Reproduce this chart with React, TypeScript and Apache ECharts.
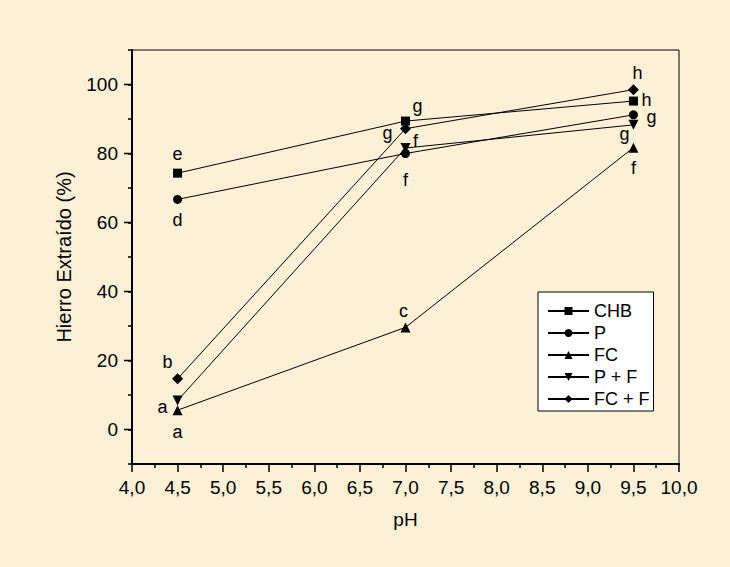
import React, { useEffect, useRef } from 'react';
import * as echarts from 'echarts';

// ---- data ----
const PH = [4.5, 7.0, 9.5];
const SERIES_NAMES = ['CHB', 'P', 'FC', 'P + F', 'FC + F'];
const CHB = [74.3, 89.4, 95.2];
const P = [66.7, 80.0, 91.2];
const FC = [5.6, 29.6, 81.7];
const PF = [8.4, 81.6, 88.3];
const FCF = [14.7, 87.2, 98.5];
const CHB_LETTERS = ['e', 'g', 'h'];
const P_LETTERS = ['d', 'f', 'g'];
const FC_LETTERS = ['a', 'c', 'f'];
const PF_LETTERS = ['a', 'f', 'g'];
const FCF_LETTERS = ['b', 'g', 'h'];
const Y_MAJOR = [0, 20, 40, 60, 80, 100];

// ---- styling (label offsets in px, relative to marker centre) ----
const CHB_OFF = [[0, -19], [12, -15], [13, -1]];
const P_OFF = [[0, 21], [0, 26], [18, 2]];
const FC_OFF = [[0, 22], [-2, -16], [0, 20]];
const PF_OFF = [[-15, 6], [10, -7], [-9, 9]];
const FCF_OFF = [[-10, -17], [-18, 4], [4, -17]];

const FONT = "'Liberation Sans', Arial, sans-serif";
const BG = '#FCF0D6';

function buildSeries(name: string, values: number[], letters: string[], offs: number[][], symbol: string, size: number, rotate = 0) {
  return {
    name,
    type: 'line',
    symbol,
    symbolSize: size,
    symbolRotate: rotate,
    lineStyle: { color: '#000', width: 1 },
    itemStyle: { color: '#000' },
    data: PH.map((x, i) => ({
      value: [x, values[i]],
      label: {
        show: true,
        formatter: letters[i],
        position: 'inside',
        offset: offs[i],
        align: 'center',
        verticalAlign: 'middle',
        color: '#000',
        fontSize: 18,
        fontFamily: FONT,
      },
    })),
    z: 3,
  };
}

export default function App() {
  const ref = useRef<HTMLDivElement>(null);
  useEffect(() => {
    if (!ref.current) return;
    const chart = echarts.init(ref.current, undefined, { renderer: 'svg' });
    chart.setOption({
      animation: false,
      backgroundColor: BG,
      textStyle: { fontFamily: FONT },
      grid: {
        left: 132, top: 50, width: 547, height: 414,
        show: true, borderColor: '#000', borderWidth: 1, backgroundColor: 'transparent',
      },
      legend: {
        orient: 'vertical',
        left: 538, top: 292,
        backgroundColor: '#fff',
        borderColor: '#000', borderWidth: 1, borderRadius: 0,
        padding: [10, 4, 3, 9],
        itemGap: 4,
        itemWidth: 41,
        itemHeight: 10,
        textStyle: { fontSize: 18, color: '#000', fontFamily: FONT },
        data: SERIES_NAMES,
      },
      xAxis: {
        type: 'value', min: 4, max: 10, interval: 0.5,
        name: 'pH', nameLocation: 'middle', nameGap: 46,
        nameTextStyle: { fontSize: 19, color: '#000', fontFamily: FONT },
        axisLine: { onZero: false, lineStyle: { color: '#000', width: 2 } },
        axisTick: { length: 8, lineStyle: { color: '#000', width: 1.5 } },
        minorTick: { show: true, splitNumber: 2, length: 4, lineStyle: { color: '#000', width: 1.5 } },
        axisLabel: {
          margin: 14, fontSize: 19, color: '#000', fontFamily: FONT,
          formatter: (v: number) => v.toFixed(1).replace('.', ','),
        },
        splitLine: { show: false },
      },
      yAxis: {
        type: 'value', min: -10, max: 110, interval: 10,
        name: 'Hierro Extraído (%)', nameLocation: 'middle', nameGap: 58,
        nameTextStyle: { fontSize: 20, color: '#000', fontFamily: FONT },
        axisLine: { onZero: false, lineStyle: { color: '#000', width: 2 } },
        axisTick: { length: 4, lineStyle: { color: '#000', width: 1.5 } },
        axisLabel: {
          margin: 14, fontSize: 19, color: '#000', fontFamily: FONT,
          formatter: (v: number) => (Y_MAJOR.indexOf(v) >= 0 ? String(v) : ''),
        },
        splitLine: { show: false },
      },
      series: [
        buildSeries(SERIES_NAMES[0], CHB, CHB_LETTERS, CHB_OFF, 'rect', 9),
        buildSeries(SERIES_NAMES[1], P, P_LETTERS, P_OFF, 'circle', 9),
        buildSeries(SERIES_NAMES[2], FC, FC_LETTERS, FC_OFF, 'triangle', 10),
        buildSeries(SERIES_NAMES[3], PF, PF_LETTERS, PF_OFF, 'triangle', 10, 180),
        buildSeries(SERIES_NAMES[4], FCF, FCF_LETTERS, FCF_OFF, 'diamond', 11),
      ],
    });
    const ticks = Y_MAJOR.map((v) => {
      const p = chart.convertToPixel({ gridIndex: 0 }, [4, v]) as number[];
      return {
        type: 'line',
        shape: { x1: p[0] - 8, y1: p[1], x2: p[0], y2: p[1] },
        style: { stroke: '#000', lineWidth: 1.5 },
        z: 10,
      };
    });
    chart.setOption({ graphic: ticks });
    return () => chart.dispose();
  }, []);
  return <div ref={ref} style={{ position: 'absolute', left: 0, top: 0, width: 730, height: 567 }} />;
}
